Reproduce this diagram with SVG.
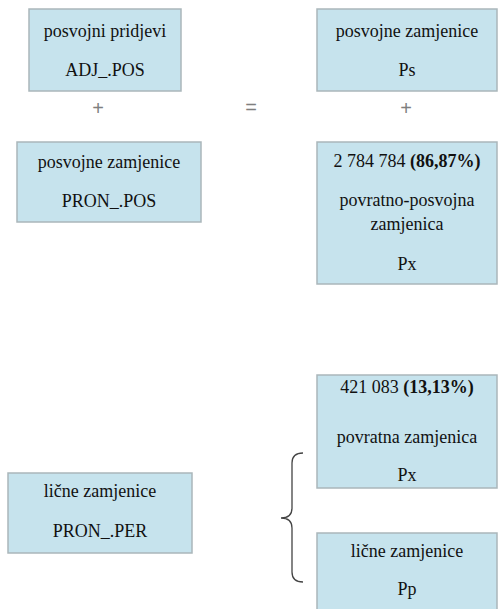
<svg xmlns="http://www.w3.org/2000/svg" width="498" height="609" viewBox="0 0 498 609">
<style>
.box{fill:#c6e3ed;stroke:#aab6ba;stroke-width:1.5}
.t{font-size:18px;fill:#111;text-anchor:middle}
.op{font-family:'Liberation Sans',Arial,sans-serif;font-size:20px;fill:#7f7f7f;text-anchor:middle}
.brace{fill:none;stroke:#444;stroke-width:1.3}
</style>
<rect width="498" height="609" fill="#fff"/>
<g font-family="Liberation Serif, Times New Roman, serif">
<g id="n1"><rect class="box" x="29" y="9" width="152" height="82"/>
<text class="t" x="105" y="37">posvojni pridjevi</text>
<text class="t" x="105" y="76">ADJ_.POS</text></g>
<g id="n2"><rect class="box" x="17" y="142" width="184" height="80"/>
<text class="t" x="109" y="168">posvojne zamjenice</text>
<text class="t" x="109" y="207">PRON_.POS</text></g>
<g id="n3"><rect class="box" x="317" y="9" width="180" height="82"/>
<text class="t" x="407" y="37">posvojne zamjenice</text>
<text class="t" x="407" y="76">Ps</text></g>
<g id="n4"><rect class="box" x="317" y="142" width="180" height="142"/>
<text class="t" x="407" y="167">2 784 784 <tspan font-weight="bold">(86,87%)</tspan></text>
<text class="t" x="407" y="206">povratno-posvojna</text>
<text class="t" x="407" y="230">zamjenica</text>
<text class="t" x="407" y="270">Px</text></g>
<g id="n5"><rect class="box" x="317" y="375" width="180" height="113"/>
<text class="t" x="407" y="393">421 083 <tspan font-weight="bold">(13,13%)</tspan></text>
<text class="t" x="407" y="443">povratna zamjenica</text>
<text class="t" x="407" y="481">Px</text></g>
<g id="n6"><rect class="box" x="317" y="533" width="180" height="80"/>
<text class="t" x="407" y="557">lične zamjenice</text>
<text class="t" x="407" y="595">Pp</text></g>
<g id="n7"><rect class="box" x="8" y="473" width="184" height="80"/>
<text class="t" x="100" y="497">lične zamjenice</text>
<text class="t" x="100" y="537">PRON_.PER</text></g>
</g>
<g id="connectors">
<text class="op" x="98" y="115">+</text>
<text class="op" x="251" y="114">=</text>
<text class="op" x="406" y="115">+</text>
<path class="brace" d="M303,453 Q292,453 292,463 L292,508 Q292,518 281,518 Q292,518 292,528 L292,572 Q292,582 303,582"/>
</g>
</svg>
